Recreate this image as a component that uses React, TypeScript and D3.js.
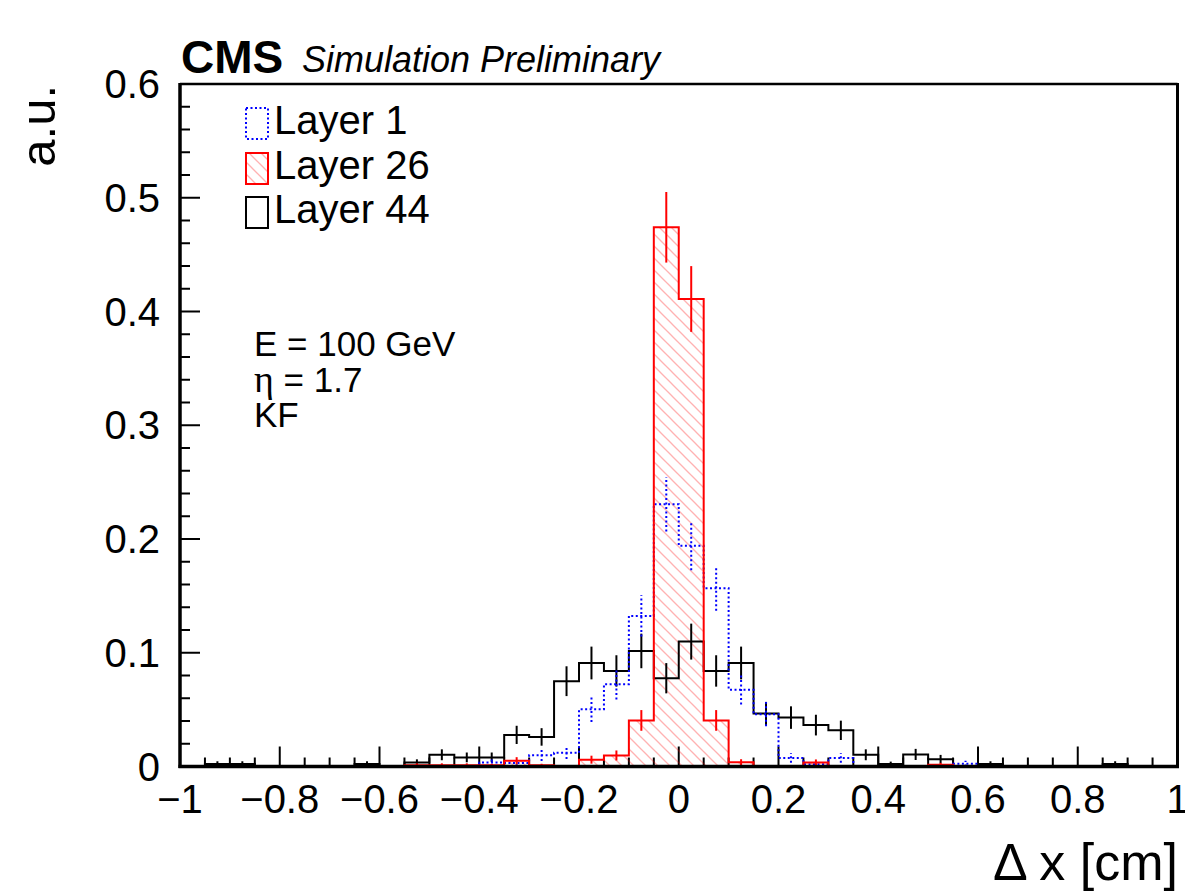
import React from 'react';
import * as d3 from 'd3';

// ---- Data ----
const xMin = -1;
const xMax = 1;
const nBins = 40;
const binEdges = d3.range(nBins + 1).map((i) => xMin + (i * (xMax - xMin)) / nBins);

const xTickLabels = [-1, -0.8, -0.6, -0.4, -0.2, 0, 0.2, 0.4, 0.6, 0.8, 1];
const yTickLabels = [0, 0.1, 0.2, 0.3, 0.4, 0.5, 0.6];

const seriesNames = ['Layer 1', 'Layer 26', 'Layer 44'];

// Layer 1 (blue, dotted)
const layer1 = [
  0, 0, 0, 0, 0, 0, 0, 0, 0, 0,
  0, 0, 0.0035, 0.003, 0.0099, 0.0121, 0.0503, 0.0723, 0.1324, 0.2306,
  0.194, 0.1567, 0.0675, 0.046, 0.0075, 0.002, 0.0075, 0, 0, 0,
  0, 0.0025, 0, 0, 0, 0, 0, 0, 0, 0,
];
const layer1Err = [
  0, 0, 0, 0, 0, 0, 0, 0, 0, 0,
  0, 0, 0.003, 0.0027, 0.005, 0.0055, 0.0112, 0.0134, 0.0182, 0.024,
  0.0215, 0.0198, 0.013, 0.0107, 0.0043, 0.0022, 0.0043, 0, 0, 0,
  0, 0.0025, 0, 0, 0, 0, 0, 0, 0, 0,
];

// Layer 26 (red, hatched)
const layer26 = [
  0, 0, 0, 0, 0, 0, 0, 0, 0, 0.0012,
  0.0012, 0.0012, 0.001, 0.005, 0.001, 0, 0.006, 0.0097, 0.0405, 0.474,
  0.411, 0.0405, 0.0037, 0, 0, 0.0035, 0, 0, 0, 0,
  0.0015, 0, 0, 0, 0, 0, 0, 0, 0, 0,
];
const layer26Err = [
  0, 0, 0, 0, 0, 0, 0, 0, 0, 0.0016,
  0.0016, 0.0016, 0.0014, 0.0032, 0.0014, 0, 0.0035, 0.0044, 0.0091, 0.031,
  0.0289, 0.0091, 0.0027, 0, 0, 0.0027, 0, 0, 0, 0,
  0.0017, 0, 0, 0, 0, 0, 0, 0, 0, 0,
];

// Layer 44 (black, solid)
const layer44 = [
  0, 0.0023, 0.0023, 0, 0, 0, 0, 0.0023, 0, 0.0035,
  0.0103, 0.008, 0.008, 0.0278, 0.026, 0.075, 0.091, 0.084, 0.1016, 0.0776,
  0.1098, 0.084, 0.091, 0.0465, 0.043, 0.0364, 0.0318, 0.0103, 0.0021, 0.0106,
  0.0064, 0, 0.0023, 0, 0, 0, 0, 0.0023, 0, 0,
];
const layer44Err = [
  0, 0.0023, 0.0023, 0, 0, 0, 0, 0.0023, 0, 0.0028,
  0.0048, 0.0043, 0.0043, 0.008, 0.0077, 0.0131, 0.0144, 0.0138, 0.0152, 0.0133,
  0.0158, 0.0138, 0.0144, 0.0103, 0.0099, 0.0091, 0.0085, 0.0048, 0.0022, 0.0049,
  0.0038, 0, 0.0023, 0, 0, 0, 0, 0.0023, 0, 0,
];

const FONT = '"Liberation Sans", Arial, Helvetica, sans-serif';

const x = d3.scaleLinear().domain([xMin, xMax]).range([180, 1177.5]);
const y = d3.scaleLinear().domain([0, 0.6]).range([766.5, 84]);

function stepPoints(vals: number[]): [number, number][] {
  const pts: [number, number][] = vals.map((v, i) => [binEdges[i], v]);
  pts.push([binEdges[nBins], vals[vals.length - 1]]);
  return pts;
}

const line = d3
  .line<[number, number]>()
  .x((d) => x(d[0]))
  .y((d) => y(d[1]))
  .curve(d3.curveStepAfter);

const area = d3
  .area<[number, number]>()
  .x((d) => x(d[0]))
  .y0(() => y(0))
  .y1((d) => y(d[1]))
  .curve(d3.curveStepAfter);

function ErrorBars({ vals, errs, stroke, dash }: { vals: number[]; errs: number[]; stroke: string; dash?: string }) {
  return (
    <g>
      {vals.map((v, i) => {
        if (v <= 0 || errs[i] <= 0) return null;
        const cx = x((binEdges[i] + binEdges[i + 1]) / 2);
        return (
          <line
            key={i}
            x1={cx}
            x2={cx}
            y1={y(Math.max(0, v - errs[i]))}
            y2={y(v + errs[i])}
            stroke={stroke}
            strokeWidth={2}
            strokeDasharray={dash}
          />
        );
      })}
    </g>
  );
}

function fmt(v: number): string {
  const a = Math.round(Math.abs(v) * 10) / 10;
  return (v < 0 ? '\u2212' : '') + String(a);
}

export default function App() {
  const xMajor = xTickLabels;
  const xMinor = d3.range(0, 41).map((i) => -1 + i * 0.05);
  const yMinor = d3.range(0, 31).map((i) => i * 0.02);
  const blueDash = '2,2.5';

  const legendY = [108, 153, 197];
  const legendStyles = [
    { stroke: '#0000ff', dash: blueDash, fill: 'none' },
    { stroke: '#ff0000', dash: undefined, fill: 'url(#hatch)' },
    { stroke: '#000000', dash: undefined, fill: 'none' },
  ];

  return (
    <svg
      width={1185}
      height={891}
      style={{ position: 'absolute', left: 0, top: 0, background: '#fff' }}
      fontFamily={FONT}
    >
      <defs>
        <pattern id="hatch" patternUnits="userSpaceOnUse" width={12} height={12}>
          <line x1={-3} y1={-3} x2={15} y2={15} stroke="#ff0000" strokeOpacity={0.3} strokeWidth={1.3} />
          <line x1={-15} y1={-3} x2={3} y2={15} stroke="#ff0000" strokeOpacity={0.3} strokeWidth={1.3} />
          <line x1={9} y1={-3} x2={27} y2={15} stroke="#ff0000" strokeOpacity={0.3} strokeWidth={1.3} />
        </pattern>
        <clipPath id="plotclip">
          <rect x={180} y={84} width={997.5} height={684} />
        </clipPath>
      </defs>
      <rect x={0} y={0} width={1185} height={891} fill="#fff" />

      {/* Ticks */}
      {yMinor.map((v, i) => {
        const major = Math.abs(v * 10 - Math.round(v * 10)) < 1e-6;
        return (
          <line key={'ym' + i} x1={180} x2={180 + (major ? 20 : 10)} y1={y(v)} y2={y(v)} stroke="#000" strokeWidth={2} />
        );
      })}
      {xMinor.map((v, i) => {
        const major = i % 4 === 0;
        return (
          <line key={'xm' + i} x1={x(v)} x2={x(v)} y1={766.5} y2={766.5 - (major ? 20 : 9)} stroke="#000" strokeWidth={2} />
        );
      })}

      {/* Histograms */}
      <g clipPath="url(#plotclip)">
        <path d={area(stepPoints(layer26)) || ''} fill="url(#hatch)" />
        <path d={line(stepPoints(layer44)) || ''} fill="none" stroke="#000" strokeWidth={2} />
        <ErrorBars vals={layer44} errs={layer44Err} stroke="#000" />
        <path d={line(stepPoints(layer1)) || ''} fill="none" stroke="#0000ff" strokeWidth={2} strokeDasharray={blueDash} />
        <ErrorBars vals={layer1} errs={layer1Err} stroke="#0000ff" dash={blueDash} />
        <path d={line(stepPoints(layer26)) || ''} fill="none" stroke="#ff0000" strokeWidth={2} />
        <ErrorBars vals={layer26} errs={layer26Err} stroke="#ff0000" />
      </g>

      {/* Frame */}
      <line x1={180} x2={1177.5} y1={84} y2={84} stroke="#000" strokeWidth={2.5} />
      <line x1={1177.5} x2={1177.5} y1={83} y2={768} stroke="#000" strokeWidth={3} />
      <line x1={180} x2={180} y1={83} y2={768} stroke="#000" strokeWidth={3.5} />
      <line x1={178.5} x2={1179} y1={766.5} y2={766.5} stroke="#000" strokeWidth={3.5} />

      {/* Y tick labels */}
      {yTickLabels.map((v) => (
        <text key={'yl' + v} x={160} y={y(v) + 14} textAnchor="end" fontSize={40} fill="#000">
          {String(v)}
        </text>
      ))}
      {/* X tick labels */}
      {xMajor.map((v) => (
        <text key={'xl' + v} x={x(v)} y={813} textAnchor="middle" fontSize={40} fill="#000">
          {fmt(v)}
        </text>
      ))}

      {/* Axis titles */}
      <text x={1178} y={880} textAnchor="end" fontSize={52} fill="#000">
        Δ x [cm]
      </text>
      <text transform="translate(55,85) rotate(-90)" textAnchor="end" fontSize={49} fill="#000">
        a.u.
      </text>

      {/* CMS label */}
      <text x={181} y={73} fontSize={46} fontWeight="bold" fill="#000">
        CMS
      </text>
      <text x={302} y={72} fontSize={36} fontStyle="italic" fill="#000">
        Simulation Preliminary
      </text>

      {/* Legend */}
      {seriesNames.map((name, i) => (
        <g key={name}>
          <rect
            x={246}
            y={legendY[i]}
            width={22}
            height={31}
            fill={legendStyles[i].fill}
            stroke={legendStyles[i].stroke}
            strokeWidth={2}
            strokeDasharray={legendStyles[i].dash}
          />
          <text x={274} y={legendY[i] + 26} fontSize={40} fill="#000">
            {name}
          </text>
        </g>
      ))}

      {/* Annotation */}
      <text x={254} y={356} fontSize={35} fill="#000">
        E = 100 GeV
      </text>
      <text x={254} y={392} fontSize={35} fill="#000">
        <tspan fontFamily='"Liberation Serif", "DejaVu Serif", serif' fontSize={38}>η</tspan> = 1.7
      </text>
      <text x={254} y={427} fontSize={35} fill="#000">
        KF
      </text>
    </svg>
  );
}
